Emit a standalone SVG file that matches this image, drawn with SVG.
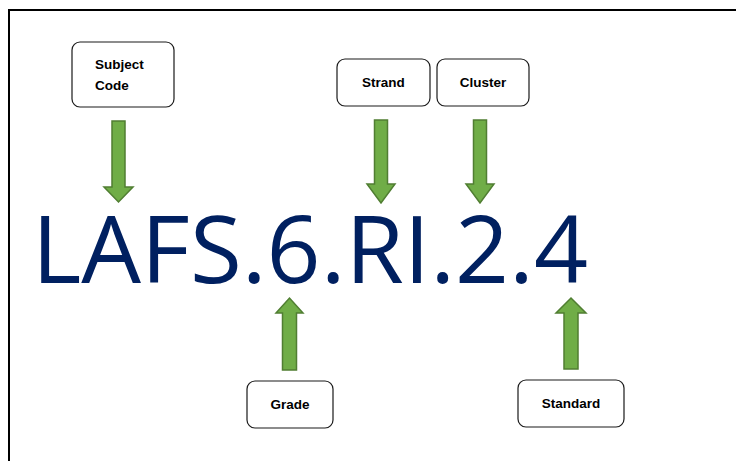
<svg xmlns="http://www.w3.org/2000/svg" width="736" height="461" viewBox="0 0 736 461">
<style>
.box{fill:#fff;stroke:#1a1a1a;stroke-width:1.2}
.lbl{font-family:"Liberation Sans",Arial,sans-serif;font-weight:bold;font-size:13.5px;fill:#000}
.arr{fill:#70AD47;stroke:#507E32;stroke-width:1.5;stroke-linejoin:miter}
.code{font-family:"Open Sans","Liberation Sans",sans-serif;font-size:94px;fill:#002060}
</style>
<rect x="0" y="0" width="736" height="461" fill="#fff"/>
<path d="M9,461 V10 H736" fill="none" stroke="#000" stroke-width="2"/>
<text class="code" x="32" y="283" textLength="556" lengthAdjust="spacingAndGlyphs">LAFS.6.RI.2.4</text>
<g id="subject-code">
<rect class="box" x="72" y="42" width="102" height="65" rx="8"/>
<text class="lbl" x="95" y="69">Subject</text>
<text class="lbl" x="95" y="90">Code</text>
</g>
<g id="strand">
<rect class="box" x="337" y="59" width="93" height="47" rx="8"/>
<text class="lbl" x="383.5" y="87" text-anchor="middle">Strand</text>
</g>
<g id="cluster">
<rect class="box" x="437" y="59" width="92" height="47" rx="8"/>
<text class="lbl" x="483" y="87" text-anchor="middle">Cluster</text>
</g>
<g id="grade">
<rect class="box" x="247" y="381" width="86" height="47" rx="8"/>
<text class="lbl" x="290" y="409" text-anchor="middle">Grade</text>
</g>
<g id="standard">
<rect class="box" x="518" y="380" width="106" height="47" rx="8"/>
<text class="lbl" x="571" y="408" text-anchor="middle">Standard</text>
</g>
<g id="connectors">
<polygon class="arr" points="112,121 125,121 125,187 133,187 118.5,202 104,187 112,187"/>
<polygon class="arr" points="374.5,120 387.5,120 387.5,184 395,184 381,203 367,184 374.5,184"/>
<polygon class="arr" points="473.5,120 486.5,120 486.5,184 494,184 480,203 466,184 473.5,184"/>
<polygon class="arr" points="282.5,370 296.5,370 296.5,313 303,313 289.5,298 276,313 282.5,313"/>
<polygon class="arr" points="564,369 578,369 578,313 586,313 571,298 556,313 564,313"/>
</g>
</svg>
